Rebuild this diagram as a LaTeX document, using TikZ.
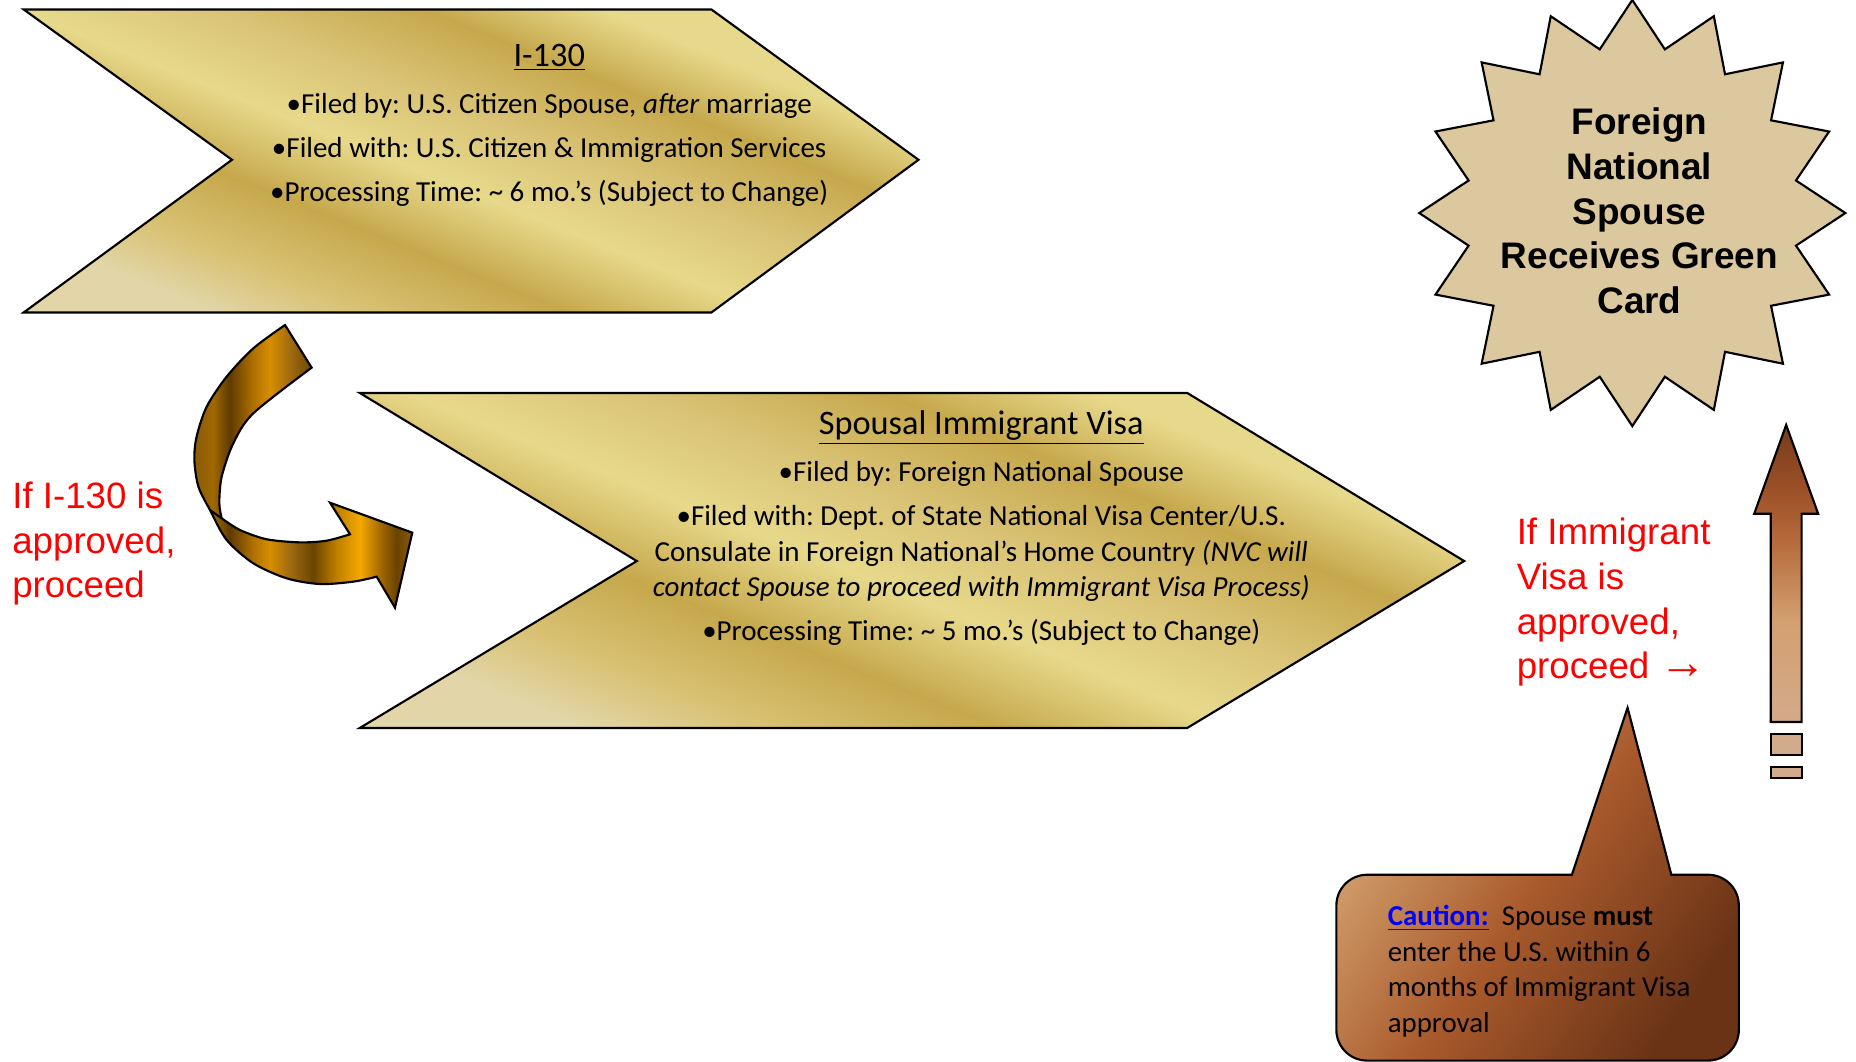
\documentclass[tikz,border=0pt]{standalone}
\usepackage{fontspec}
\setmainfont{Carlito}
\newfontfamily\arialf{Liberation Sans}
\frenchspacing
\definecolor{gl}{HTML}{E7D98B}
\definecolor{gd}{HTML}{C6A84C}
\definecolor{gm}{HTML}{D9C275}
\definecolor{gpale}{HTML}{E2D6A8}
\definecolor{cl}{HTML}{D6A673}
\definecolor{cm}{HTML}{A95A2C}
\definecolor{cd}{HTML}{6A3316}
\definecolor{starfillc}{HTML}{DCC89E}
\definecolor{rbA}{HTML}{8A5A0A}
\definecolor{rbB}{HTML}{A06800}
\definecolor{rbC}{HTML}{5E3A00}
\definecolor{rbD}{HTML}{B07000}
\definecolor{rbE}{HTML}{D68E00}
\definecolor{rbF}{HTML}{A06A10}
\definecolor{rbG}{HTML}{6A4500}
\definecolor{rbH}{HTML}{C08000}
\definecolor{rbI}{HTML}{F5A800}
\definecolor{rbJ}{HTML}{9A6200}
\definecolor{rbK}{HTML}{6A4300}
\definecolor{vaA}{HTML}{D3AA8A}
\definecolor{vaB}{HTML}{D3A070}
\definecolor{vaC}{HTML}{B66C3C}
\definecolor{vaD}{HTML}{9C5128}
\definecolor{vaE}{HTML}{763A1A}
\definecolor{rectc}{HTML}{D2AA8C}
\pgfdeclareverticalshading{goldsh}{100bp}{color(0bp)=(gpale); color(25bp)=(gpale); color(31bp)=(gm); color(39bp)=(gd); color(47bp)=(gl); color(55bp)=(gm); color(63bp)=(gd); color(70bp)=(gl); color(75bp)=(gl); color(100bp)=(gl)}
\pgfdeclarehorizontalshading{callsh}{100bp}{color(0bp)=(cl); color(25bp)=(cl); color(50bp)=(cm); color(75bp)=(cd); color(100bp)=(cd)}
\pgfdeclarehorizontalshading{ribbonsh}{100bp}{color(0bp)=(rbA); color(25bp)=(rbA); color(29.4bp)=(rbB); color(33.2bp)=(rbC); color(38.5bp)=(rbD); color(42.4bp)=(rbE); color(47bp)=(rbF); color(52.3bp)=(rbG); color(57.7bp)=(rbH); color(63bp)=(rbI); color(68.3bp)=(rbJ); color(71.4bp)=(rbK); color(75bp)=(rbA); color(100bp)=(rbA)}
\pgfdeclareverticalshading{upsh}{100bp}{color(0bp)=(vaA); color(25bp)=(vaA); color(42bp)=(vaB); color(55bp)=(vaC); color(64bp)=(vaD); color(75bp)=(vaE); color(100bp)=(vaE)}
\begin{document}
\begin{tikzpicture}[x=0.5pt,y=-0.5pt,
  outl/.style={draw=black, line width=0.9pt, line join=miter},
  chev/.style={outl, shading=goldsh, shading angle=-22},
  bodytxt/.style={font=\fontsize{12.25}{15}\selectfont, anchor=base, inner sep=0pt},
  titletxt/.style={font=\fontsize{14.5}{17}\selectfont, anchor=base, inner sep=0pt},
  redtxt/.style={font=\arialf\fontsize{15.5}{18}\selectfont, text=red, anchor=base west, inner sep=0pt},
  startxt/.style={font=\arialf\bfseries\fontsize{15.6}{19}\selectfont, anchor=base, inner sep=0pt},
  calltxt/.style={font=\fontsize{12.2}{15}\selectfont, anchor=base west, inner sep=0pt}]
\useasboundingbox (0,0) rectangle (1568,897);

% chevron 1
\path[chev] (20,8) -- (601,8) -- (776,135) -- (601,264) -- (20,264) -- (196,135) -- cycle;
\node[titletxt] (c1t) at (464,56) {\underline{I-130}};
\node[bodytxt] (c1a) at (464,96) {•Filed by: U.S. Citizen Spouse, \textit{after} marriage};
\node[bodytxt] (c1b) at (464,133) {•Filed with: U.S. Citizen \& Immigration Services};
\node[bodytxt] (c1c) at (464,170) {•Processing Time: \textasciitilde{} 6 mo.’s (Subject to Change)};

% chevron 2
\path[chev] (304,332) -- (1003,332) -- (1237,474) -- (1003,615) -- (304,615) -- (538,474) -- cycle;
\node[titletxt] (c2t) at (829,367) {\underline{Spousal Immigrant Visa}};
\node[bodytxt] (c2a) at (829,407) {•Filed by: Foreign National Spouse};
\node[bodytxt] (c2b) at (829,444) {•Filed with: Dept. of State National Visa Center/U.S.};
\node[bodytxt] (c2c) at (829,474) {Consulate in Foreign National’s Home Country \textit{(NVC will}};
\node[bodytxt] (c2d) at (829,504) {\textit{contact Spouse to proceed with Immigrant Visa Process)}};
\node[bodytxt] (c2e) at (829,541) {•Processing Time: \textasciitilde{} 5 mo.’s (Subject to Change)};

% curved ribbon arrow
\path[outl, shading=ribbonsh] (240.8,274.6) -- (263.3,310.6)
  -- plot[smooth] coordinates {(263.3,310.6) (214.0,349.2) (197.1,374.5) (187.3,402.7) (185.3,425.2) (187.3,437.9)}
  -- plot[smooth] coordinates {(187.3,437.9) (202.8,447.8) (225.3,455.6) (253.4,458.2) (275.9,456.8) (295.7,451.4)}
  -- (278.8,424.7) -- (348.3,450.0) -- (333.7,513.4) -- (318.2,487.2)
  -- plot[smooth] coordinates {(318.2,487.2) (298.5,491.4) (270.3,493.4) (242.2,488.6) (214.0,475.9) (191.5,456.2) (177.4,430.9) (167.6,411.1) (164.2,388.6) (166.1,368.9) (174.6,343.6) (191.5,318.2) (214.0,294.3) (240.8,274.6)}
  -- cycle;
\draw[line width=0.9pt] (177.4,430.9) -- (187.3,437.9);

% red label left
\node[redtxt] (l1) at (10,430) {If I-130 is};
\node[redtxt] (l2) at (10,468) {approved,};
\node[redtxt] (l3) at (10,505) {proceed};

% starburst
\begin{scope}[shift={(1379,180)}]
\path[outl, fill=starfillc] (90:180) \foreach \k in {0,...,15} { -- ({90+\k*22.5+11.25}:141) -- ({90+(\k+1)*22.5}:180) } -- cycle;
\end{scope}
\node[startxt] (s1) at (1385,114) {Foreign};
\node[startxt] (s2) at (1385,152) {National};
\node[startxt] (s3) at (1385,190) {Spouse};
\node[startxt] (s4) at (1385,227) {Receives Green};
\node[startxt] (s5) at (1385,265) {Card};

% red label right
\node[redtxt] (r1) at (1281,460) {If Immigrant};
\node[redtxt] (r2) at (1281,498) {Visa is};
\node[redtxt] (r3) at (1281,536) {approved,};
\node[redtxt] (r4) at (1281,573) {proceed {\fontsize{20}{20}\selectfont →}};

% up arrow
\path[outl, shading=upsh] (1509,359) -- (1536,434) -- (1522,434) -- (1522,610) -- (1496,610) -- (1496,434) -- (1482,434) -- cycle;
\path[outl, fill=rectc] (1496,620) rectangle (1522,638);
\path[outl, fill=rectc] (1496,648) rectangle (1522,657);

% caution callout
\path[outl, shading=callsh, shading angle=-35] (1375,598) -- (1412,739) [rounded corners=13pt] -- (1469,739) -- (1469,896) -- (1129,896) -- (1129,739) [sharp corners] -- (1328,739) -- cycle;
\node[calltxt] (k1) at (1172,782) {\textcolor{blue}{\underline{\textbf{Caution:}}}\ \ Spouse \textbf{must}};
\node[calltxt] (k2) at (1172,812) {enter the U.S. within 6};
\node[calltxt] (k3) at (1172,842) {months of Immigrant Visa};
\node[calltxt] (k4) at (1172,872) {approval};
\end{tikzpicture}
\end{document}
